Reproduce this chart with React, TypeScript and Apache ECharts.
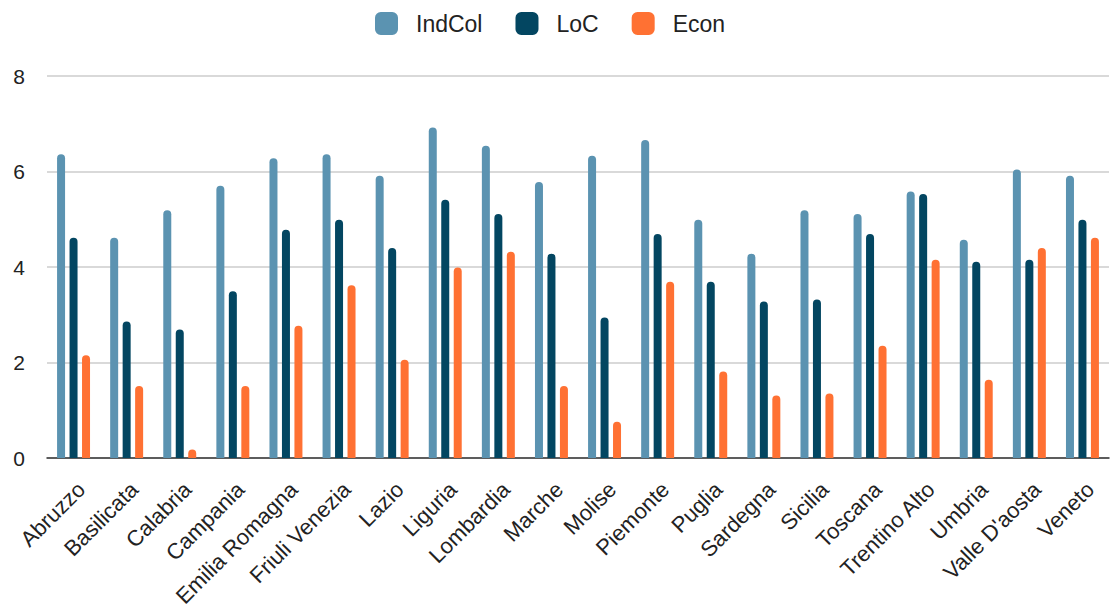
import React, { useEffect, useRef } from "react";
import * as echarts from "echarts";

const regions = [
  "Abruzzo", "Basilicata", "Calabria", "Campania", "Emilia Romagna",
  "Friuli Venezia", "Lazio", "Liguria", "Lombardia", "Marche",
  "Molise", "Piemonte", "Puglia", "Sardegna", "Sicilia",
  "Toscana", "Trentino Alto", "Umbria", "Valle D'aosta", "Veneto",
];

const indCol = [6.36, 4.61, 5.19, 5.7, 6.28, 6.36, 5.91, 6.92, 6.54, 5.78, 6.33, 6.66, 4.99, 4.28, 5.19, 5.11, 5.58, 4.57, 6.04, 5.91];
const loc = [4.61, 2.86, 2.69, 3.49, 4.78, 4.99, 4.4, 5.41, 5.11, 4.28, 2.94, 4.69, 3.69, 3.28, 3.32, 4.69, 5.53, 4.11, 4.15, 4.99];
const econ = [2.15, 1.51, 0.18, 1.51, 2.77, 3.62, 2.06, 3.99, 4.32, 1.51, 0.76, 3.69, 1.81, 1.31, 1.35, 2.35, 4.15, 1.64, 4.4, 4.61];

const seriesNames = ["IndCol", "LoC", "Econ"];
const seriesColors = ["#5b93b1", "#034661", "#ff7133"];
const yTicks = [0, 2, 4, 6, 8];

const FONT = "'Liberation Sans', Arial, sans-serif";

export default function App() {
  const ref = useRef<HTMLDivElement>(null);

  useEffect(() => {
    document.body.style.margin = "0";
    if (!ref.current) return;
    const chart = echarts.init(ref.current, undefined, { renderer: "svg" });
    const values = [indCol, loc, econ];

    chart.setOption({
      animation: false,
      backgroundColor: "#ffffff",
      textStyle: { fontFamily: FONT },
      legend: {
        top: 7,
        left: 370,
        itemWidth: 23,
        itemHeight: 23,
        itemGap: 33,
        icon: "roundRect",
        textStyle: { fontSize: 23, color: "#222222", fontFamily: FONT, padding: [0, 0, 0, 13] },
        data: seriesNames,
      },
      grid: {
        left: 47,
        right: 5,
        top: 76,
        bottom: 152,
        containLabel: false,
        outerBoundsMode: "none",
      },
      xAxis: {
        type: "category",
        data: regions,
        axisLine: { lineStyle: { color: "#333333", width: 1.5 } },
        axisTick: { show: false },
        axisLabel: {
          rotate: 45,
          interval: 0,
          margin: 20,
          fontSize: 22,
          color: "#222222",
          fontFamily: FONT,
          verticalAlign: "top",
        },
      },
      yAxis: {
        type: "value",
        min: yTicks[0],
        max: yTicks[yTicks.length - 1],
        interval: 2,
        axisLine: { show: false },
        axisTick: { show: false },
        splitLine: { lineStyle: { color: "#cccccc", width: 1.5 } },
        axisLabel: { fontSize: 21, color: "#222222", margin: 22, fontFamily: FONT },
      },
      series: seriesNames.map((name, i) => ({
        name,
        type: "bar",
        data: values[i],
        barWidth: 8,
        barGap: "56%",
        itemStyle: { color: seriesColors[i], borderRadius: [4, 4, 0, 0] },
      })),
    });

    return () => chart.dispose();
  }, []);

  return <div ref={ref} style={{ width: 1114, height: 610 }} />;
}
